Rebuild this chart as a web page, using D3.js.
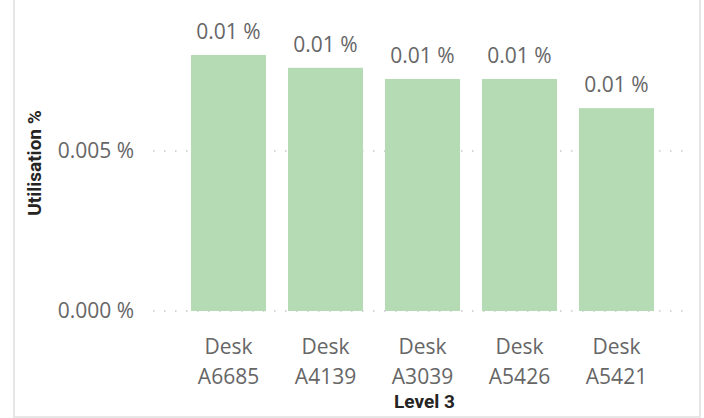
<!DOCTYPE html>
<html>
<head>
<meta charset="utf-8">
<script src="https://cdn.jsdelivr.net/npm/d3@7"></script>
<style>
  body { margin: 0; background: #fff; }
  svg { display: block; font-family: "Open Sans", "Noto Sans", sans-serif; }
</style>
</head>
<body>
<div id="chart"></div>
<script>
// data
const desks = ['Desk A6685', 'Desk A4139', 'Desk A3039', 'Desk A5426', 'Desk A5421'];
const utilisation = [0.0080, 0.0076, 0.00725, 0.00725, 0.00634];
const valueLabels = ['0.01 %', '0.01 %', '0.01 %', '0.01 %', '0.01 %'];
const yTicks = [0, 0.005];
const yTickLabels = ['0.000 %', '0.005 %'];

const width = 704, height = 418;
const plot = { left: 153, right: 692, top: 39, bottom: 311 };
const font = '"Open Sans", "Noto Sans", sans-serif';

const svg = d3.select('#chart').append('svg')
  .attr('width', width).attr('height', height);

// card border
svg.append('rect')
  .attr('x', 14).attr('y', -4)
  .attr('width', 686).attr('height', 421)
  .attr('fill', 'none').attr('stroke', '#e6e6e6').attr('stroke-width', 2);

const x = d3.scaleBand()
  .domain(desks)
  .range([plot.left, plot.right])
  .paddingInner(0.227)
  .paddingOuter(0.392);

const y = d3.scaleLinear()
  .domain([0, 0.0085])
  .range([plot.bottom, plot.bottom - 0.0085 * 32000]);

// gridlines
svg.append('g')
  .selectAll('line')
  .data(yTicks)
  .enter().append('line')
  .attr('x1', plot.left).attr('x2', plot.right)
  .attr('y1', d => y(d)).attr('y2', d => y(d))
  .attr('stroke', '#c8c8c8')
  .attr('stroke-width', 1.5)
  .attr('stroke-dasharray', '1.5,9.5');

// y axis
svg.append('g')
  .attr('transform', 'translate(134,0)')
  .call(d3.axisLeft(y).tickValues(yTicks).tickSize(0).tickPadding(0)
    .tickFormat((d, i) => yTickLabels[i]))
  .call(g => g.attr('font-size', 21).attr('font-family', font))
  .call(g => g.select('.domain').remove())
  .call(g => g.selectAll('text').attr('fill', '#666'));

// bars
svg.selectAll('.bar')
  .data(desks)
  .enter().append('rect')
  .attr('class', 'bar')
  .attr('x', d => x(d))
  .attr('width', x.bandwidth())
  .attr('y', (d, i) => y(utilisation[i]))
  .attr('height', (d, i) => y(0) - y(utilisation[i]))
  .attr('fill', '#b5dbb4');

// data labels
svg.selectAll('.lbl')
  .data(desks)
  .enter().append('text')
  .attr('class', 'lbl')
  .attr('x', d => x(d) + x.bandwidth() / 2)
  .attr('y', (d, i) => y(utilisation[i]) - 16)
  .attr('text-anchor', 'middle')
  .attr('fill', '#666')
  .attr('font-size', 21)
  .text((d, i) => valueLabels[i]);

// x axis, two-line labels
const xAxis = svg.append('g')
  .attr('transform', 'translate(0,' + plot.bottom + ')')
  .call(d3.axisBottom(x).tickSize(0).tickFormat(''))
  .call(g => g.select('.domain').remove());

xAxis.selectAll('.tick').each(function (d) {
  const parts = d.split(' ');
  const t = d3.select(this);
  t.select('text').remove();
  parts.forEach((p, k) => {
    t.append('text')
      .attr('y', 43 + k * 30)
      .attr('text-anchor', 'middle')
      .attr('fill', '#666')
      .attr('font-size', 21)
      .attr('font-family', font)
      .text(p);
  });
});

// axis titles
svg.append('text')
  .attr('x', (plot.left + plot.right) / 2 + 2)
  .attr('y', 408)
  .attr('text-anchor', 'middle')
  .attr('fill', '#252423')
  .attr('font-size', 19)
  .attr('font-weight', 'bold')
  .attr('font-family', 'Roboto, sans-serif')
  .text('Level 3');

svg.append('text')
  .attr('transform', 'translate(41,163) rotate(-90)')
  .attr('text-anchor', 'middle')
  .attr('fill', '#252423')
  .attr('font-size', 19)
  .attr('font-weight', 'bold')
  .attr('font-family', 'Roboto, sans-serif')
  .text('Utilisation %');
</script>
</body>
</html>
